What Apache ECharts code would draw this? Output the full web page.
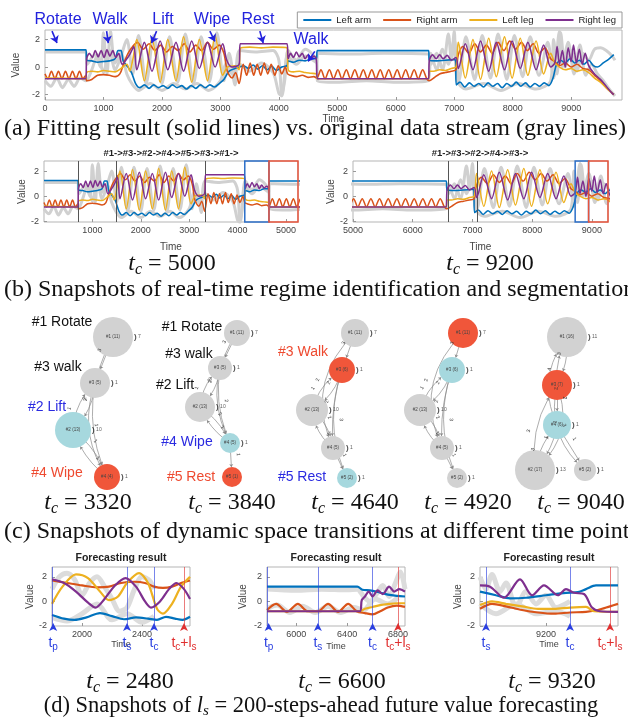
<!DOCTYPE html>
<html><head><meta charset="utf-8">
<script src="https://cdn.jsdelivr.net/npm/echarts@6/dist/echarts.min.js"></script>
<style>html,body{margin:0;padding:0;background:#fff}#c{width:628px;height:718px}</style>
</head><body><div id="c"></div>
<script>
// ---------------- DATA ----------------
const seriesNames = ['Left arm','Right arm','Left leg','Right leg'];
// (a) fitted streams [time, value]
const leftArm = [[0,1.25],[700,1.25],[712,0.5],[800,0.45],[900,0.35],[1000,0.4],[1100,0.45],[1200,0.6],[1250,1.2],[1300,1.2],[1340,0.4],[1400,0.1],[1480,-0.4],[1550,-1.2],[1620,-1.5],[1700,-1.3],[1780,-1.55],[1860,-1.3],[1940,-1.5],[2020,-1.35],[2100,-1.55],[2180,-1.3],[2260,-1.5],[2340,-1.35],[2420,-1.6],[2500,-1.35],[2580,-1.55],[2660,-1.3],[2740,-1.5],[2820,-1.3],[2900,-1.45],[2980,-1.2],[3060,-0.9],[3150,-0.3],[3250,-0.1],[3330,0.0],[3400,0.1],[3480,-0.1],[3560,0.15],[3640,-0.15],[3720,0.1],[3800,-0.2],[3880,0.05],[3960,-0.25],[4050,0.0],[4140,0.1],[4160,0.45],[4250,0.35],[4350,0.5],[4450,0.45],[4550,0.6],[4640,0.6],[4660,1.2],[6560,1.2],[6575,0.5],[6700,0.45],[6850,0.5],[7020,0.55],[7035,-1.3],[7100,-1.1],[7180,-1.45],[7260,-1.15],[7340,-1.4],[7420,-1.2],[7500,-1.45],[7580,-1.15],[7660,-1.4],[7740,-1.2],[7820,-1.5],[7900,-1.2],[7980,-1.4],[8060,-1.1],[8140,-1.4],[8220,-1.15],[8300,-1.45],[8380,-1.2],[8460,-1.4],[8540,-1.15],[8620,-1.35],[8690,-0.8],[8750,0.2],[8820,0.5],[8900,0.3],[8980,0.6],[9060,0.3],[9140,0.5],[9220,0.2],[9300,0.5],[9380,0.1],[9450,0.0],[9550,0.3],[9650,0.6],[9730,0.9]];
const rightArm = [[0,-0.5],[50,-0.85],[110,-0.3],[170,-0.85],[230,-0.3],[290,-0.85],[350,-0.3],[410,-0.85],[470,-0.3],[530,-0.85],[590,-0.3],[650,-0.85],[700,-0.6],[712,-1.0],[800,-0.9],[900,-0.6],[1000,-0.55],[1100,-0.6],[1200,-0.7],[1280,-0.5],[1350,0.3],[1420,1.0],[1500,1.5],[1580,1.8],[1680,1.3],[1780,1.7],[1880,1.2],[1980,1.6],[2080,1.1],[2180,1.5],[2280,1.2],[2380,1.7],[2480,1.1],[2580,1.6],[2680,1.2],[2780,1.8],[2880,1.3],[2980,1.6],[3060,1.0],[3120,-0.3],[3200,-0.8],[3260,-0.4],[3320,-1.2],[3390,0.2],[3450,-0.6],[3510,0.3],[3570,-0.6],[3630,0.2],[3690,-0.6],[3750,0.3],[3810,-0.5],[3870,0.2],[3930,-0.6],[3990,0.1],[4050,-0.5],[4110,0.0],[4150,-0.5],[4200,-0.6],[4300,-0.7],[4400,-0.6],[4500,-0.75],[4600,-0.7],[4650,-0.8],[4720,-0.2],[4790,-0.85],[4865,-0.2],[4935,-0.85],[5010,-0.2],[5080,-0.85],[5155,-0.2],[5225,-0.85],[5300,-0.2],[5370,-0.85],[5445,-0.2],[5515,-0.85],[5590,-0.2],[5660,-0.85],[5735,-0.2],[5805,-0.85],[5880,-0.2],[5950,-0.85],[6025,-0.2],[6095,-0.85],[6170,-0.2],[6240,-0.85],[6315,-0.2],[6385,-0.85],[6460,-0.2],[6530,-0.85],[6575,-1.0],[6650,-0.8],[6750,-0.5],[6850,-0.4],[6950,-0.3],[7030,-0.2],[7070,0.9],[7150,1.5],[7250,1.0],[7350,1.7],[7450,1.1],[7550,1.6],[7650,1.0],[7750,1.8],[7850,1.2],[7950,1.9],[8050,1.3],[8150,1.8],[8250,1.2],[8350,1.7],[8450,1.0],[8550,1.4],[8650,0.6],[8720,0.4],[8800,0.1],[8900,0.3],[9000,0.0],[9100,0.2],[9200,-0.1],[9300,-0.2],[9400,-0.6],[9500,-1.0],[9600,-1.5],[9700,-1.9],[9730,-2.0]];
const leftLeg = [[0,-0.8],[700,-0.85],[712,-0.4],[800,-0.3],[900,-0.35],[1000,-0.25],[1100,-0.3],[1200,-0.35],[1300,-0.1],[1400,0.2],[1450,-0.3],[1500,0.5],[1570,2.0],[1700,-1.0],[1830,2.1],[1970,-1.1],[2100,2.0],[2240,-1.0],[2370,2.2],[2510,-1.1],[2640,2.0],[2780,-1.0],[2910,2.3],[3040,-0.6],[3120,0.0],[3250,0.1],[3320,-0.2],[3340,1.35],[3500,1.45],[3700,1.4],[3900,1.45],[4140,1.4],[4160,-0.2],[4250,-0.35],[4350,-0.3],[4450,-0.4],[4550,-0.45],[4640,-0.5],[4660,-0.85],[6560,-0.85],[6575,-0.3],[6650,-0.3],[6750,-0.2],[6850,-0.25],[6950,-0.1],[7030,0.0],[7070,1.8],[7190,-0.8],[7320,2.0],[7450,-0.9],[7590,2.1],[7720,-0.7],[7860,2.2],[7990,-0.8],[8130,2.1],[8260,-0.6],[8400,1.9],[8530,-0.5],[8650,1.0],[8720,0.3],[8800,0.0],[8900,-0.2],[9000,-0.1],[9100,-0.3],[9200,-0.2],[9300,-0.4],[9400,-0.8],[9500,-1.1],[9600,-1.5],[9700,-1.9],[9730,-2.0]];
const rightLeg = [[0,-0.85],[700,-0.85],[712,0.6],[760,1.0],[810,0.7],[860,1.2],[910,0.75],[960,1.2],[1010,0.7],[1060,1.25],[1110,0.8],[1160,1.2],[1210,0.7],[1260,1.0],[1320,0.2],[1400,0.6],[1460,1.0],[1520,1.5],[1570,-0.2],[1700,1.8],[1830,-0.3],[1970,1.9],[2100,-0.2],[2240,1.8],[2370,-0.3],[2510,1.9],[2640,-0.1],[2780,1.8],[2910,0.0],[3040,1.7],[3110,0.5],[3200,0.0],[3320,0.2],[3340,1.7],[4140,1.7],[4160,0.6],[4200,1.0],[4250,0.7],[4300,1.1],[4350,0.75],[4400,1.0],[4450,0.6],[4500,0.9],[4550,0.65],[4600,0.8],[4640,0.6],[4660,-0.85],[6560,-0.85],[6575,0.5],[6630,0.9],[6690,0.6],[6750,0.9],[6810,0.6],[6880,0.85],[6950,0.5],[7030,0.7],[7070,-0.1],[7190,1.7],[7320,-0.2],[7450,1.9],[7590,-0.3],[7720,1.8],[7860,-0.2],[7990,1.9],[8130,-0.1],[8260,1.8],[8400,-0.2],[8530,1.6],[8650,0.0],[8720,0.3],[8760,1.5],[8800,0.2],[8850,1.2],[8900,0.0],[8950,1.4],[9000,0.4],[9040,1.6],[9090,0.3],[9140,1.3],[9190,0.2],[9240,1.0],[9300,0.1],[9400,-0.5],[9500,-0.9],[9600,-1.4],[9700,-1.9],[9730,-2.0]];
// original (gray) streams
const rawArm = [[0,1.1],[700,1.1],[720,0.2],[850,0.9],[950,0.0],[1000,2.5],[1060,-0.5],[1120,2.6],[1200,0.3],[1300,1.0],[1400,-0.5],[1500,-1.3],[1600,-1.7],[1800,-1.2],[2000,-1.7],[2200,-1.2],[2400,-1.6],[2600,-1.2],[2800,-1.7],[3000,-1.0],[3100,0.3],[3200,-0.5],[3330,0.2],[3500,-0.3],[3700,0.3],[3900,-0.4],[4000,-1.9],[4050,-2.1],[4100,-0.5],[4150,0.8],[4300,0.2],[4450,0.8],[4650,0.3],[4660,1.0],[5200,0.95],[5800,1.0],[6550,0.95],[6600,0.2],[6700,1.0],[6800,-0.2],[6900,2.4],[6950,0.5],[7000,2.6],[7050,-1.0],[7200,-1.6],[7500,-1.2],[7800,-1.7],[8100,-1.2],[8400,-1.6],[8650,-1.0],[8700,2.0],[8760,-0.5],[8820,2.5],[8900,0.0],[9000,1.2],[9100,-0.3],[9200,1.0],[9300,0.5],[9400,1.3],[9500,1.4],[9600,1.2],[9700,0.8],[9750,0.5]];
const rawLeg = [[0,-1.0],[100,-1.4],[200,-0.8],[300,-1.5],[400,-0.9],[500,-1.4],[600,-0.8],[700,-1.0],[800,-0.2],[900,0.9],[1000,-0.4],[1100,1.3],[1200,-0.2],[1300,0.8],[1400,2.0],[1500,-0.5],[1600,2.3],[1730,-1.2],[1860,2.3],[2000,-1.2],[2130,2.2],[2270,-1.1],[2400,2.4],[2540,-1.2],[2670,2.2],[2810,-1.1],[2940,2.5],[3060,-1.0],[3150,1.0],[3250,-1.3],[3330,1.2],[3600,1.1],[3900,1.2],[4000,0.5],[4050,-2.0],[4100,-1.0],[4160,1.2],[4300,0.5],[4450,1.3],[4650,0.4],[4660,-1.0],[5000,-1.1],[5500,-1.0],[6000,-1.1],[6550,-1.0],[6600,1.0],[6700,-0.2],[6800,1.3],[6900,0.2],[7000,2.0],[7080,-1.0],[7200,2.2],[7350,-0.9],[7480,2.3],[7620,-0.8],[7750,2.4],[7900,-0.9],[8030,2.3],[8170,-0.7],[8300,2.2],[8450,-0.6],[8600,1.8],[8700,-0.8],[8800,2.6],[8850,0.0],[8950,1.8],[9050,-0.5],[9150,1.6],[9250,-0.6],[9350,0.2],[9450,-0.5],[9550,-1.0],[9650,-1.6],[9750,-2.1]];

// (a) activity annotations: label, arrow from [t,v] to [t,v]
const activityLabels = ['Rotate','Walk','Lift','Wipe','Rest','Walk'];
const activityArrows = [[[120,2.62],[205,1.75]],[[1054,2.62],[1082,1.75]],[[1909,2.62],[1823,1.75]],[[2820,2.62],[2906,1.87]],[[3675,2.62],[3732,1.75]],[[4615,1.14],[4501,0.41]]];

// (b) segmentation snapshots
const bTitles = ['#1->#3->#2->#4->#5->#3->#1->', '#1->#3->#2->#4->#3->'];
const bCuts1 = [700, 1500, 3330];
const bCurrent1 = [4150, 4650];
const bForecast1 = [4650, 5250];
const bCuts2 = [6600, 7080];
const bCurrent2 = [8720, 8945];
const bForecast2 = [8945, 9270];
const bTc = [5000, 9200];

// (c) regime graphs
const cTimes = [3320, 3840, 4640, 4920, 9040];
const cNodes = [
  [['1',11,'g'],['3',5,'g'],['2',13,'c'],['4',4,'r']],
  [['1',11,'g'],['3',5,'g'],['2',13,'g'],['4',5,'c'],['5',1,'r']],
  [['1',11,'g'],['3',6,'r'],['2',13,'g'],['4',5,'g'],['5',2,'c']],
  [['1',11,'r'],['3',6,'c'],['2',13,'g'],['4',5,'g'],['5',2,'g']],
  [['1',16,'g'],['3',7,'r'],['4',6,'c'],['2',17,'g'],['5',2,'g']]
];
const cSelf = [
  {1:'7',3:'1',2:'10',4:'1'},
  {1:'7',3:'1',2:'10',4:'1'},
  {1:'7',3:'1',2:'10',4:'1',5:'1'},
  {1:'7',3:'1',2:'10',4:'1',5:'1'},
  {1:'11',3:'1',4:'1',2:'13',5:'1'}
];
const cEdges = [
  [['1','3','3'],['3','2','2'],['2','3','1'],['3','4','1'],['1','4','2'],['2','4','1'],['4','2','1']],
  [['1','3','3'],['3','2','2'],['2','3','1'],['2','4','2'],['4','2','1'],['3','4','2'],['1','4','2'],['4','5','1']],
  [['1','3','3'],['3','2','2'],['2','3','1'],['2','4','2'],['4','2','1'],['3','4','2'],['3','5','3'],['1','4','2'],['4','5','1']],
  [['1','3','3'],['3','2','2'],['2','3','1'],['2','4','2'],['4','2','1'],['3','4','2'],['3','5','3'],['1','4','2'],['4','5','1']],
  [['1','3','3'],['3','1','4'],['3','4','2'],['4','1','2'],['3','2','1'],['2','3','3'],['4','2','1'],['2','4','3'],['4','5','1'],['3','5','3']]
];
const cRegimeText = [
  [['#1 Rotate','k'],['#3 walk','k'],['#2 Lift','b'],['#4 Wipe','r']],
  [['#1 Rotate','k'],['#3 walk','k'],['#2 Lift','k'],['#4 Wipe','b'],['#5 Rest','r']],
  [['#3 Walk','r'],['#5 Rest','b']]
];

// (d) forecasting snapshots
const d1LeftArm = [[1800,-1.1],[1880,-1.4],[1950,-1.5],[2030,-1.3],[2120,-0.95],[2200,-1.2],[2280,-1.45],[2360,-1.3],[2440,-1.4],[2500,-1.5],[2560,-1.25],[2620,-1.4],[2670,-1.5],[2720,-1.25]];
const d1RightArm = [[1800,1.7],[1900,1.5],[2000,1.3],[2100,1.15],[2180,1.2],[2260,1.5],[2350,1.6],[2420,1.5],[2480,1.2],[2540,1.1],[2600,1.2],[2660,1.5],[2720,1.7]];
const d1LeftLeg = [[1800,-0.2],[1870,1.2],[1960,2.2],[2040,1.9],[2120,0.8],[2180,0.1],[2240,0.4],[2300,1.5],[2380,2.3],[2440,1.5],[2500,-0.6],[2540,-1.0],[2600,-0.2],[2660,1.2],[2720,2.0]];
const d1RightLeg = [[1800,1.8],[1880,1.5],[1960,0.8],[2040,-0.1],[2090,-0.5],[2150,0.2],[2220,1.3],[2290,1.9],[2360,1.2],[2420,0.0],[2460,-0.5],[2520,0.0],[2580,1.0],[2630,1.5],[2680,1.0],[2720,0.2]];
const d1Raw1 = [[1800,1.0],[1850,2.0],[1900,2.3],[1950,1.8],[2000,0.5],[2050,1.5],[2100,2.0],[2150,1.2],[2200,0.2],[2250,-0.8],[2300,-0.5],[2350,1.0],[2400,2.0],[2450,1.7],[2480,1.0]];
const d1Raw2 = [[1800,-1.3],[1900,-1.6],[2000,-1.0],[2100,-0.2],[2200,-1.5],[2300,-1.0],[2400,-1.7],[2480,-1.2]];
const d2LeftArm = [[5770,1.2],[6480,1.2],[6520,0.95],[6580,0.9],[6650,0.75],[6720,0.55],[6790,0.45],[6855,0.4]];
const d2RightArm = [[5770,-0.7],[5842,-0.2],[5928,-0.85],[6013,-0.2],[6090,-0.8],[6170,-0.8],[6250,-0.2],[6330,-0.85],[6408,-0.2],[6475,-0.8],[6540,-0.95],[6600,-1.05],[6660,-0.8],[6720,-0.5],[6790,-0.35],[6855,-0.45]];
const d2LeftLeg = [[5770,-0.8],[6500,-0.8],[6540,-0.6],[6600,-0.45],[6660,-0.3],[6730,-0.2],[6790,-0.15],[6855,-0.15]];
const d2RightLeg = [[5770,-0.8],[6500,-0.8],[6515,0.1],[6540,0.4],[6570,0.8],[6600,0.4],[6640,0.9],[6680,0.6],[6730,1.2],[6770,0.8],[6810,1.0],[6855,0.8]];
const d2Raw1 = [[5770,1.0],[6000,0.9],[6200,1.0],[6400,0.95],[6480,1.0],[6530,0.4],[6580,0.0],[6630,0.6],[6680,1.3],[6730,0.4],[6780,1.5],[6820,2.4],[6855,1.0]];
const d2Raw2 = [[5770,-0.6],[5850,-0.3],[5950,-0.9],[6050,-0.4],[6150,-0.9],[6250,-0.4],[6350,-0.9],[6450,-0.5],[6530,-0.7],[6620,0.2],[6720,-0.2],[6800,0.3]];
const d3LeftArm = [[8870,0.8],[8950,0.5],[9020,0.25],[9100,0.3],[9200,0.5],[9300,0.7],[9360,0.75],[9400,1.0],[9450,1.3],[9560,1.3]];
const d3RightArm = [[8870,-0.6],[8930,-0.2],[9000,-0.4],[9080,-0.7],[9160,-0.9],[9240,-1.0],[9320,-0.9],[9400,-0.85],[9460,-0.7],[9520,-0.4],[9560,-0.2]];
const d3LeftLeg = [[8870,-0.3],[8930,0.0],[9000,-0.2],[9080,-0.4],[9160,-0.6],[9240,-0.6],[9320,-0.5],[9400,-0.45],[9440,-0.8],[9560,-0.85]];
const d3RightLeg = [[8870,1.3],[8920,1.2],[8990,0.3],[9070,1.8],[9130,0.5],[9190,1.3],[9260,0.5],[9300,1.0],[9340,0.7],[9390,0.6],[9430,-0.5],[9470,-0.8],[9560,-0.85]];
const d3Raw1 = [[8870,2.0],[8900,1.0],[8930,2.2],[8970,0.8],[9000,1.5],[9050,-0.5],[9100,0.8],[9150,-0.2],[9200,0.5],[9250,-0.5],[9320,0.0]];
const d3Raw2 = [[8870,-0.2],[8950,-1.0],[9050,-0.2],[9150,-1.0],[9250,-0.8],[9320,-1.2]];
const dMarks = [
  [['p',1800],['s',2300],['c',2480],['cl',2680]],
  [['p',5775],['s',6170],['c',6600],['cl',6800]],
  [['s',8900],['c',9320],['cl',9520]]
];
const dTc = [2480, 6600, 9320];
const dTicks = [[2000,2400],[6000,6400,6800],[9200]];
const dRange = [[1800,2720],[5770,6855],[8870,9560]];

// ---------------- STYLE / LAYOUT ----------------
const SANS = 'Liberation Sans, Arial, sans-serif';
const SERIF = 'Liberation Serif, Times New Roman, serif';
const COL = ['#0072BD','#D95319','#EDB120','#7E2F8E'];
const GRAY = '#d0d0d0';
const BLUE_T = '#2222dd';
const NODE_COL = {g:'#d2d2d2', c:'#a6d8de', r:'#f0563a'};
const TXT_COL = {k:'#111', b:'#2a2ae0', r:'#ee4a30'};
const plain = v => String(v);

const grids = [
  {left:45, top:30, width:577, height:70},
  {left:44, top:161, width:254, height:61},
  {left:353, top:161, width:255, height:61},
  {left:52, top:567, width:138, height:59},
  {left:267, top:567, width:138, height:59},
  {left:480, top:567, width:138, height:59},
  {left:0, top:0, width:628, height:718}
];
grids.forEach((g,i)=>{ if(i<6){ g.show=true; g.borderColor='#b5b5b5'; g.borderWidth=1; } });

function xAx(gi,min,max,vals,extra){
  return Object.assign({type:'value',gridIndex:gi,min,max,splitLine:{show:false},axisLine:{show:false,onZero:false},
    axisTick:{show:true,inside:true,length:3,customValues:vals,lineStyle:{color:'#999'}},
    axisLabel:{customValues:vals,formatter:plain,fontSize:9,color:'#444',fontFamily:SANS,margin:4}},extra||{});
}
function yAx(gi,min,max,gap){
  return {type:'value',gridIndex:gi,min,max,splitLine:{show:false},axisLine:{show:false,onZero:false},
    axisTick:{show:true,inside:true,length:3,customValues:[-2,0,2],lineStyle:{color:'#999'}},
    axisLabel:{customValues:[-2,0,2],formatter:plain,fontSize:9,color:'#444',fontFamily:SANS,margin:5},
    name:'Value',nameLocation:'middle',nameGap:gap,nameTextStyle:{fontSize:10,color:'#444',fontFamily:SANS}};
}
const tName = (gap,fs)=>({name:'Time',nameLocation:'middle',nameGap:gap,nameTextStyle:{fontSize:fs,color:'#444',fontFamily:SANS}});
const xAxis = [
  xAx(0,0,9870,[0,1000,2000,3000,4000,5000,6000,7000,8000,9000],tName(13,10)),
  xAx(1,0,5250,[1000,2000,3000,4000,5000],tName(20,10)),
  xAx(2,5000,9270,[5000,6000,7000,8000,9000],tName(20,10)),
  xAx(3,dRange[0][0],dRange[0][1],dTicks[0],tName(12,9)),
  xAx(4,dRange[1][0],dRange[1][1],dTicks[1],tName(16,9)),
  xAx(5,dRange[2][0],dRange[2][1],dTicks[2],tName(12,9)),
  {type:'value',gridIndex:6,min:0,max:628,show:false}
];
const yAxis = [
  yAx(0,-2.4,2.7,18), yAx(1,-2.05,2.8,13), yAx(2,-2.05,2.8,15),
  yAx(3,-2.0,2.8,16), yAx(4,-2.0,2.8,19), yAx(5,-2.0,2.8,17),
  {type:'value',gridIndex:6,min:0,max:718,inverse:true,show:false}
];

const series = [];
function addSet(gi, sets, raws, w, gw, firstExtra, gcol){
  raws.forEach((r,i)=>series.push(Object.assign({type:'line',name:'raw',data:r,xAxisIndex:gi,yAxisIndex:gi,symbol:'none',smooth:0.3,
    lineStyle:{color:gcol||GRAY,width:gw},itemStyle:{color:gcol||GRAY},silent:true,z:1}, i===0?(firstExtra||{}):{})));
  sets.forEach((d,i)=>series.push({type:'line',name:seriesNames[i],data:d,xAxisIndex:gi,yAxisIndex:gi,symbol:'none',smooth:0.3,
    lineStyle:{color:COL[i],width:w},itemStyle:{color:COL[i]},silent:true,z:2+i}));
}
// (a)
addSet(0,[leftArm,rightArm,leftLeg,rightLeg],[rawArm,rawLeg],1.6,3,{
  markLine:{silent:true,symbol:['none','arrow'],symbolSize:7,label:{show:false},z:10,
    lineStyle:{color:BLUE_T,width:1.6,type:'solid'},
    data:activityArrows.map(a=>[{coord:a[0]},{coord:a[1]}])}
});
// (b)
function segMarkers(cuts,cur,fc){
  return {
    markLine:{silent:true,symbol:'none',label:{show:false},lineStyle:{color:'#555',width:1,type:'solid'},data:cuts.map(t=>({xAxis:t}))},
    markArea:{silent:true,z:10,data:[
      [{xAxis:cur[0],itemStyle:{color:'rgba(0,0,0,0)',borderColor:'#2c6fc8',borderWidth:1.5}},{xAxis:cur[1]}],
      [{xAxis:fc[0],itemStyle:{color:'rgba(0,0,0,0)',borderColor:'#e8543c',borderWidth:1.5}},{xAxis:fc[1]}]]}
  };
}
addSet(1,[leftArm,rightArm,leftLeg,rightLeg],[rawArm,rawLeg],1.5,3,segMarkers(bCuts1,bCurrent1,bForecast1));
addSet(2,[leftArm,rightArm,leftLeg,rightLeg],[rawArm,rawLeg],1.5,3,segMarkers(bCuts2,bCurrent2,bForecast2));
// (d)
function subRich(c){ return {t:{fontSize:14,color:c,fontFamily:SANS,lineHeight:18},s:{fontSize:10,color:c,fontFamily:SANS,verticalAlign:'bottom',lineHeight:9}}; }
function markFor(key){
  const c = key==='cl'?'#e03030':'#2a3fe0';
  const f = key==='cl'?'{t|t}{s|c}{t|+l}{s|s}':'{t|t}{s|'+key+'}';
  return {c,f};
}
const dSets = [
  [[d1LeftArm,d1RightArm,d1LeftLeg,d1RightLeg],[d1Raw1,d1Raw2]],
  [[d2LeftArm,d2RightArm,d2LeftLeg,d2RightLeg],[d2Raw1,d2Raw2]],
  [[d3LeftArm,d3RightArm,d3LeftLeg,d3RightLeg],[d3Raw1,d3Raw2]]
];
dSets.forEach((s,k)=>{
  const marks = dMarks[k];
  addSet(3+k,s[0],s[1],2.2,5,{
    markLine:{silent:true,symbol:'none',label:{show:false},data:marks.map(m=>({xAxis:m[1],lineStyle:{color:markFor(m[0]).c,width:0.8,type:'solid',opacity:0.8}}))},
    markPoint:{silent:true,data:marks.map(m=>{const mf=markFor(m[0]);return {coord:[m[1]+(m[1]-dRange[k][0]<8?8:0),-1.75],symbol:'arrow',symbolSize:[6,8],itemStyle:{color:mf.c},
      label:{show:true,position:'bottom',distance:3,formatter:mf.f,rich:subRich(mf.c)}};})}
  },'#dcdcdc');
});

// (c) graphs on a hidden canvas grid (layout positions, px)
const cLayout = [
  {'1':[113,337,20],'3':[95,383,15],'2':[73,430,18],'4':[107,477,13]},
  {'1':[237,333,13],'3':[220,368,12],'2':[200,407,15],'4':[230,443,10],'5':[232,477,10]},
  {'1':[355,333,14],'3':[342,370,13],'2':[312,410,16],'4':[333,448,12],'5':[347,478,10]},
  {'1':[463,333,15],'3':[452,370,13],'2':[420,410,16],'4':[442,448,12],'5':[457,478,10]},
  {'1':[567,337,20],'3':[557,385,15],'4':[557,425,14],'2':[535,470,20],'5':[585,470,11]}
];
const curvMap = [
  {'3-2':0.2,'2-3':0.2,'3-4':-0.25,'1-4':-0.25,'2-4':0.15,'4-2':0.15},
  {'3-2':0.2,'2-3':0.2,'2-4':0.15,'4-2':0.15,'3-4':-0.15,'1-4':-0.3},
  {'3-2':0.2,'2-3':0.2,'2-4':0.2,'4-2':0.2,'3-4':-0.1,'3-5':-0.2,'1-4':-0.35},
  {'3-2':0.2,'2-3':0.2,'2-4':0.2,'4-2':0.2,'3-4':-0.1,'3-5':-0.2,'1-4':-0.35},
  {'1-3':0.15,'3-1':0.15,'4-1':0.3,'3-2':0.35,'2-3':0.2,'4-2':0.15,'2-4':0.15,'3-5':-0.3}
];
const selfData = [];
cNodes.forEach((nodes,k)=>{
  const L = cLayout[k];
  series.push({type:'graph',layout:'none',coordinateSystem:'cartesian2d',xAxisIndex:6,yAxisIndex:6,silent:true,z:5,
    edgeSymbol:['none','arrow'],edgeSymbolSize:3,
    label:{show:true,position:'inside',fontSize:4.5,color:'#444',fontFamily:SANS,formatter:p=>'#'+p.name+' ('+p.data.cnt+')'},
    lineStyle:{color:'#8a8a8a',width:0.7,opacity:1},
    data:nodes.map(n=>({name:n[0],cnt:n[1],value:[L[n[0]][0],L[n[0]][1]],symbolSize:2*L[n[0]][2],itemStyle:{color:NODE_COL[n[2]]}})),
    links:cEdges[k].map(e=>({source:e[0],target:e[1],lineStyle:{curveness:curvMap[k][e[0]+'-'+e[1]]||0},
      label:{show:true,formatter:e[2],fontSize:5,color:'#333',fontFamily:SANS}}))
  });
  Object.keys(cSelf[k]).forEach(id=>{ const p=L[id]; selfData.push({value:[p[0]+p[2]+1,p[1]],lbl:cSelf[k][id]}); });
});
series.push({type:'scatter',xAxisIndex:6,yAxisIndex:6,silent:true,z:6,symbolSize:0.1,data:selfData,
  label:{show:true,position:'right',distance:0,formatter:p=>'{a|)}{b| '+p.data.lbl+'}',
    rich:{a:{fontSize:8,fontWeight:'bold',color:'#222',fontFamily:SANS},b:{fontSize:5,color:'#333',fontFamily:SANS}}}});

// ---------------- TEXT ----------------
const serifRich = {
  i:{fontFamily:SERIF,fontStyle:'italic',fontSize:24,lineHeight:28,fill:'#111'},
  s:{fontFamily:SERIF,fontStyle:'italic',fontSize:16,lineHeight:12,verticalAlign:'bottom',fill:'#111'},
  n:{fontFamily:SERIF,fontSize:24,lineHeight:28,fill:'#111'}
};
function tcText(x,y,v){ return {type:'text',x,y,silent:true,style:{text:'{i|t}{s|c}{n| = '+v+'}',rich:serifRich,align:'center',verticalAlign:'middle'}}; }
function caption(x,y,t,align,size){ return {type:'text',x,y,silent:true,style:{text:t,font:(size||24)+'px '+SERIF,fill:'#111',align:align||'left',verticalAlign:'middle'}}; }
const graphic = [];
graphic.push(caption(315,129,'(a) Fitting result (solid lines) vs. original data stream (gray lines)','center'));
graphic.push(caption(4,290,'(b) Snapshots of real-time regime identification and segmentation','left'));
graphic.push(caption(4,532,'(c) Snapshots of dynamic space transitions at different time points','left'));
graphic.push({type:'text',x:321,y:706,silent:true,style:{text:'{n|(d) Snapshots of }{i|l}{s|s}{n| = 200-steps-ahead future value forecasting}',
  rich:{n:{fontFamily:SERIF,fontSize:22.5,lineHeight:26,fill:'#111'},i:{fontFamily:SERIF,fontStyle:'italic',fontSize:22.5,lineHeight:26,fill:'#111'},s:{fontFamily:SERIF,fontStyle:'italic',fontSize:15,lineHeight:10,verticalAlign:'bottom',fill:'#111'}},
  align:'center',verticalAlign:'middle'}});
// activity labels
const actPos = [[58,20],[110,20],[163,20],[212,20],[258,20],[311,40]];
activityLabels.forEach((t,i)=>graphic.push({type:'text',x:actPos[i][0],y:actPos[i][1],silent:true,z:20,style:{text:t,font:'16px '+SANS,fill:BLUE_T,align:'center',verticalAlign:'middle'}}));
// (b) titles and tc
graphic.push({type:'text',x:171,y:153,style:{text:bTitles[0],font:'bold 9.5px '+SANS,fill:'#222',align:'center',verticalAlign:'middle'}});
graphic.push({type:'text',x:480,y:153,style:{text:bTitles[1],font:'bold 9.5px '+SANS,fill:'#222',align:'center',verticalAlign:'middle'}});
graphic.push(tcText(172,264,bTc[0]));
graphic.push(tcText(490,264,bTc[1]));
// (c) tc and regime labels
const cTcX = [88,232,355,468,581];
cTimes.forEach((t,i)=>graphic.push(tcText(cTcX[i],503,t)));
const cTextPos = [[[62,322],[58,367],[47,407],[57,473]],[[192,327],[189,354],[175,385],[187,442],[191,477]],[[303,352],[302,477]]];
cRegimeText.forEach((arr,k)=>arr.forEach((r,i)=>graphic.push({type:'text',x:cTextPos[k][i][0],y:cTextPos[k][i][1],silent:true,
  style:{text:r[0],font:'14px '+SANS,fill:TXT_COL[r[1]],align:'center',verticalAlign:'middle'}})));
// (d) titles and tc
const dTitleX = [121,336,549];
dTitleX.forEach(x=>graphic.push({type:'text',x,y:558,style:{text:'Forecasting result',font:'bold 10.5px '+SANS,fill:'#222',align:'center',verticalAlign:'middle'}}));
const dTcX = [130,342,552];
dTc.forEach((t,i)=>graphic.push(tcText(dTcX[i],682,t)));

const chart = echarts.init(document.getElementById('c'),null,{renderer:'canvas',width:628,height:718});
chart.setOption({
  animation:false,
  backgroundColor:'#fff',
  legend:{data:seriesNames,right:6,top:12,icon:'rect',itemWidth:28,itemHeight:2,itemGap:12,selectedMode:false,
    textStyle:{fontSize:9.5,fontFamily:SANS,color:'#222'},borderColor:'#999',borderWidth:1,padding:[3,6],backgroundColor:'#fff'},
  grid:grids, xAxis, yAxis, series, graphic
});
</script></body></html>
